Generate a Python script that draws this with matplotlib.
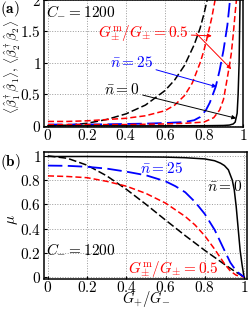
import matplotlib
matplotlib.use("Agg")
import matplotlib.pyplot as plt
from matplotlib.ticker import FuncFormatter

plt.rcParams["mathtext.fontset"] = "cm"
plt.rcParams["font.family"] = ["DejaVu Serif"]

# (a) occupation numbers vs G+/G-
x_a_bk_dash = [0, 0.1, 0.2, 0.3, 0.4, 0.5, 0.6, 0.65, 0.7, 0.75, 0.78, 0.8, 0.82]
y_a_bk_dash = [0, 0.01, 0.04, 0.1, 0.19, 0.33, 0.56, 0.73, 0.96, 1.29, 1.55, 1.78, 2.05]

x_a_red_in = [0, 0.1, 0.2, 0.3, 0.4, 0.5, 0.6, 0.65, 0.7, 0.74, 0.78, 0.8, 0.82, 0.84, 0.86]
y_a_red_in = [0.07, 0.07, 0.08, 0.1, 0.12, 0.16, 0.24, 0.33, 0.48, 0.68, 1.0, 1.2, 1.45, 1.72, 2.05]

x_a_blue = [0, 0.2, 0.4, 0.5, 0.6, 0.7, 0.75, 0.78, 0.81, 0.83, 0.86, 0.88, 0.9, 0.92, 0.935]
y_a_blue = [0.02, 0.02, 0.03, 0.035, 0.045, 0.06, 0.09, 0.14, 0.25, 0.37, 0.62, 0.88, 1.2, 1.6, 2.05]

x_a_red_out = [0, 0.4, 0.6, 0.7, 0.8, 0.85, 0.88, 0.9, 0.915, 0.93, 0.94, 0.95, 0.96, 0.968]
y_a_red_out = [0.02, 0.02, 0.03, 0.04, 0.06, 0.13, 0.25, 0.42, 0.68, 0.95, 1.15, 1.45, 1.8, 2.05]

x_a_bk_solid = [0, 0.5, 0.8, 0.9, 0.93, 0.95, 0.96, 0.97, 0.975, 0.98, 0.985]
y_a_bk_solid = [0.0, 0.0, 0.002, 0.006, 0.012, 0.03, 0.06, 0.2, 0.5, 1.0, 2.05]

# (b) purity vs G+/G-
x_b_bk_solid = [0, 0.2, 0.4, 0.6, 0.7, 0.8, 0.85, 0.88, 0.9, 0.92, 0.94, 0.95, 0.96, 0.97, 0.98, 0.99, 1.0]
y_b_bk_solid = [0.995, 0.995, 0.993, 0.99, 0.985, 0.975, 0.96, 0.94, 0.92, 0.885, 0.8, 0.72, 0.58, 0.4, 0.22, 0.1, 0.0]

x_b_bk_dash = [0, 0.1, 0.2, 0.3, 0.4, 0.5, 0.6, 0.7, 0.8, 0.9, 0.95, 1.0]
y_b_bk_dash = [1.0, 0.98, 0.923, 0.835, 0.724, 0.6, 0.47, 0.342, 0.22, 0.105, 0.05, 0.0]

x_b_red = [0, 0.1, 0.2, 0.3, 0.4, 0.5, 0.6, 0.7, 0.75, 0.8, 0.85, 0.9, 0.93, 0.96, 1.0]
y_b_red = [0.835, 0.83, 0.82, 0.79, 0.75, 0.69, 0.61, 0.5, 0.43, 0.34, 0.23, 0.11, 0.05, 0.015, 0.0]

x_b_blue = [0, 0.1, 0.2, 0.3, 0.4, 0.5, 0.6, 0.65, 0.7, 0.75, 0.8, 0.85, 0.9, 0.93, 0.96, 1.0]
y_b_blue = [0.92, 0.918, 0.91, 0.895, 0.87, 0.84, 0.79, 0.75, 0.7, 0.62, 0.52, 0.39, 0.22, 0.12, 0.05, 0.0]

ticks_x = [0, 0.2, 0.4, 0.6, 0.8, 1]
ticks_a = [0, 0.5, 1, 1.5, 2]
ticks_b = [0, 0.2, 0.4, 0.6, 0.8, 1]

fmt = FuncFormatter(lambda v, p: "$%g$" % v)
fs = 11

fig = plt.figure(figsize=(2.5, 3.1), dpi=100)
ax1 = fig.add_axes([0.176, 0.59, 0.796, 0.41])
ax2 = fig.add_axes([0.176, 0.1, 0.812, 0.41])

lw = 1.1
ax1.plot(x_a_bk_dash, y_a_bk_dash, color="k", lw=lw, dashes=(5, 2))
ax1.plot(x_a_red_in, y_a_red_in, color="red", lw=lw, dashes=(4, 2))
ax1.plot(x_a_blue, y_a_blue, color="blue", lw=lw + 0.2, dashes=(8, 3))
ax1.plot(x_a_red_out, y_a_red_out, color="red", lw=lw, dashes=(4, 2))
ax1.plot(x_a_bk_solid, y_a_bk_solid, color="k", lw=lw)

ax2.plot(x_b_bk_solid, y_b_bk_solid, color="k", lw=lw)
ax2.plot(x_b_bk_dash, y_b_bk_dash, color="k", lw=lw, dashes=(5, 2))
ax2.plot(x_b_red, y_b_red, color="red", lw=lw, dashes=(4, 2))
ax2.plot(x_b_blue, y_b_blue, color="blue", lw=lw + 0.2, dashes=(8, 3))

for ax, yt in ((ax1, ticks_a), (ax2, ticks_b)):
    ax.set_xticks(ticks_x)
    ax.set_yticks(yt)
    ax.xaxis.set_major_formatter(fmt)
    ax.yaxis.set_major_formatter(fmt)
    ax.tick_params(direction="in", length=2, labelsize=fs, pad=2)
    ax.tick_params(axis="x", pad=1)
    ax.grid(True, color="0.6", ls=":", lw=0.7)
    for s in ax.spines.values():
        s.set_linewidth(1.1)

ax1.set_xlim(-0.02, 1.0)
ax1.set_ylim(-0.02, 2.0)
ax2.set_xlim(-0.02, 1.015)
ax2.set_ylim(-0.016, 1.033)

# axis labels placed in figure coords
fig.text(0.048, 0.785,
         r"$\langle\hat{\beta}_1^\dagger\hat{\beta}_1\rangle,\,\langle\hat{\beta}_2^\dagger\hat{\beta}_2\rangle$",
         fontsize=9.5, rotation=90, ha="center", va="center")
fig.text(0.05, 0.29, r"$\mu$", fontsize=fs, rotation=90, ha="center", va="center")
fig.text(0.585, 0.003, r"$G_{+}/G_{-}$", fontsize=10.5, ha="center", va="bottom")

fig.text(0.0, 0.972, r"$\mathbf{(a)}$", fontsize=fs, va="center")
fig.text(0.0, 0.478, r"$\mathbf{(b)}$", fontsize=fs, va="center")

ax1.text(-0.01, 1.81, r"$C_{-}=1200$", fontsize=fs, va="center")
arr = dict(arrowstyle="-|>", lw=0.7, mutation_scale=6, shrinkA=0, shrinkB=0)
ax1.annotate(r"$G^{\rm m}_{\pm}/G_{\pm}=0.5$", xy=(0.84, 1.43), xytext=(0.255, 1.47),
             color="red", fontsize=fs, va="center",
             arrowprops=dict(arr, color="red"))
ax1.annotate("", xy=(0.94, 0.9), xytext=(0.76, 1.47),
             arrowprops=dict(arr, color="red"))
ax1.annotate(r"$\bar{n}=25$", xy=(0.865, 0.62), xytext=(0.32, 1.0),
             color="blue", fontsize=fs, va="center",
             arrowprops=dict(arr, color="blue"))
ax1.annotate(r"$\bar{n}=0$", xy=(0.965, 0.12), xytext=(0.29, 0.57),
             color="k", fontsize=fs, va="center",
             arrowprops=dict(arr, color="k"))

ax2.text(-0.01, 0.23, r"$C_{-}=1200$", fontsize=fs, va="center")
ax2.text(0.47, 0.9, r"$\bar{n}=25$", fontsize=fs, color="blue", va="center")
ax2.text(0.81, 0.75, r"$\bar{n}=0$", fontsize=fs, color="k", va="center")
ax2.text(0.41, 0.065, r"$G^{\rm m}_{\pm}/G_{\pm}=0.5$", fontsize=fs, color="red", va="center")

fig.savefig("out.png", dpi=100)
